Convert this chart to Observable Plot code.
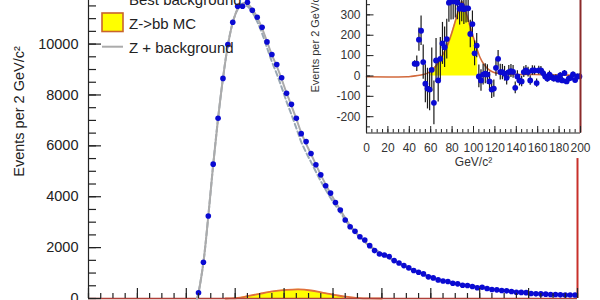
<!DOCTYPE html>
<html>
<head>
<meta charset="utf-8">
<script src="https://cdn.jsdelivr.net/npm/d3@7"></script>
<script src="https://cdn.jsdelivr.net/npm/@observablehq/plot@0.6"></script>
<style>
  html, body { margin: 0; padding: 0; background: #fff; }
  #wrap { position: relative; width: 600px; height: 300px; overflow: hidden; background: #fff; }
  #main, #inset, #legend { position: absolute; }
  #main { left: 0; top: -86px; }
  #inset { left: 314px; top: -20px; }
  #legend { left: 0; top: 0; }
  svg { max-width: none !important; }
</style>
</head>
<body>
<div id="wrap">
  <div id="main"></div>
  <div id="inset"></div>
  <svg id="legend" width="600" height="300"></svg>
</div>
<script>
// ---------- data ----------
// 2 GeV/c^2 bins, centres 45 ... 199
const binCenters = d3.range(45, 200, 2);

// main histogram: events per bin (blue points)
const mainCounts = [224,1423,3242,5280,7083,8651,9984,10858,11486,11486,
  11642,11329,11054,10662,10086,9592,9200,8675,8063,7632,
  7083,6480,6166,5697,5253,4861,4430,4143,3776,3477,
  3085,2822,2640,2430,2300,2078,1882,1751,1712,1646,
  1490,1398,1294,1202,1098,1032,967,850,810,732,
  690,666,601,575,523,510,470,420,444,392,
  353,340,314,300,274,248,240,230,196,183,
  180,170,157,155,144,140,140,135];

// fitted curves in the main panel
const fitMass = [44.4,45,47,49,51,53,55,57,59,61,63,65,67,69,71,73,75,77,79,81,83,85,87,89,91,95,99,103,107,111,115,120,125,130,140,150,160,170,180,190,200];
const fitTotal = [0,230,1420,3240,5260,7080,8650,9950,10850,11380,11600,11580,11380,11050,10620,10100,9580,9130,8620,8080,7580,7060,6520,6080,5680,4860,4130,3480,2880,2420,2060,1760,1480,1250,840,600,440,310,215,160,135];
const fitBackground = [0,230,1420,3240,5260,7080,8650,9950,10845,11360,11550,11490,11255,10885,10420,9860,9310,8830,8300,7740,7230,6700,6160,5740,5366,4615,3955,3380,2829,2408,2060,1760,1480,1250,840,600,440,310,215,160,135];

// Z->bb MC in the main panel
const zMass = [56,58,61,65,70,76,81,86,91,96,102,107,111,115,120];
const zEvents = [0,2,20,90,184,287,340,360,314,224,118,51,12,2,0];
const zFillMass = [60,61,65,70,76,81,86,91,96,102,104.5];
const zFillEvents = [15,20,90,184,287,340,360,314,224,118,80];

// red edge line at the right end of the main panel
const edgeMass = [200];
const edgeTop = [5500];

// inset: background-subtracted events and errors
const insetEvents = [60,60,178,222,68,-38,-62,-67,30,-132,
  76,-22,84,160,141,181,360,368,366,372,
  360,330,345,328,332,332,206,255,111,149,
  -2,-22,7,11,7,-27,-67,-62,40,84,
  19,19,11,-9,19,24,20,-58,-2,-22,
  -27,19,27,19,-22,27,27,-35,27,27,
  14,-2,-13,7,-6,-13,-9,-18,3,-22,
  14,-27,-13,-9,8,-20,-2,-2];
const insetErrors = [15,38,57,73,84,93,100,104,107,107,
  108,106,105,103,100,98,96,93,90,87,
  84,80,79,75,72,70,67,64,61,59,
  56,53,51,49,48,46,43,42,41,41,
  39,37,36,35,33,32,31,29,28,27,
  26,26,25,24,23,23,22,20,21,20,
  19,18,18,17,17,16,15,15,14,14,
  13,13,13,12,12,12,12,12];

// inset fit (orange) and Z MC fill (yellow)
const insetFitMass = [0,38,42,48,53,57,61,65,70,75,79,84,87,89,91,93.5,96,99,102,106,110,114,118,124,135,157,180,200];
const insetFitEvents = [-4,-4,-2,2,7,14,28,50,92,142,200,287,340,365,350,303,258,205,155,92,55,32,20,12,8,7,5,3];
const insetFillMass = [60,61,65,70,75,79,84,87,89,91,93.5,96,99,102,104];
const insetFillEvents = [24,28,50,92,142,200,287,340,365,350,303,258,205,155,122];

// ticks
const mainYTicks = [0,2000,4000,6000,8000,10000,12000,14000];
const mainYMinor = d3.range(0, 14701, 500);
const mainXMajor = [0,20,40,60,80,100,120,140,160,180,200];
const mainXMinor = d3.range(0, 201, 5);
const insetXTicks = [0,20,40,60,80,100,120,140,160,180,200];
const insetXMinor = d3.range(0, 201, 5);
const insetYTicks = [-200,-100,0,100,200,300];
const insetYMinor = d3.range(-250, 400, 50);

// legend
const legendLabels = ["Best background", "Z->bb MC", "Z + background"];
const yTitle = "Events per 2 GeV/c\u00B2";
const xTitle = "GeV/c\u00B2";

// ---------- tables ----------
const mainData = binCenters.map((m, i) => ({m, n: mainCounts[i]}));
const totalData = fitMass.map((m, i) => ({m, n: fitTotal[i]}));
const bkgData = fitMass.map((m, i) => ({m, n: fitBackground[i]}));
const zData = zMass.map((m, i) => ({m, n: zEvents[i]}));
const zFill = zFillMass.map((m, i) => ({m, n: zFillEvents[i]}));
const edgeData = edgeMass.map((m, i) => ({m, top: edgeTop[i]}));
const insetData = binCenters.map((m, i) => ({m, n: insetEvents[i], e: insetErrors[i]}));
const insetFit = insetFitMass.map((m, i) => ({m, n: insetFitEvents[i]}));
const insetFill = insetFillMass.map((m, i) => ({m, n: insetFillEvents[i]}));

const FONT = "'Liberation Sans', Arial, Helvetica, sans-serif";
const BLUE = "#0a0ad2";

// ---------- main panel ----------
const mainW = 600, mainH = 400, mL = 88, mR = 23, mT = 10, mB = 16;
const mFW = mainW - mL - mR, mFH = mainH - mT - mB;

const mainPlot = Plot.plot({
  width: mainW, height: mainH,
  marginLeft: mL, marginRight: mR, marginTop: mT, marginBottom: mB,
  style: {fontFamily: FONT, fontSize: "14.5px", color: "#222", background: "transparent", overflow: "visible"},
  x: {domain: [0, 200], axis: null},
  y: {domain: [0, 14700], ticks: mainYTicks, tickSize: 0, tickPadding: 10, tickFormat: d => String(d), label: null},
  marks: [
    Plot.areaY(zFill, {x: "m", y: "n", fill: "#ffff00"}),
    Plot.line(zData, {x: "m", y: "n", stroke: "#e0703c", strokeWidth: 1.8, curve: "catmull-rom"}),
    Plot.ruleY([0], {stroke: "#b0403a", strokeWidth: 1.6}),
    Plot.ruleX(edgeData, {x: "m", y1: 0, y2: "top", stroke: "#c8302a", strokeWidth: 2}),
    Plot.line(bkgData, {x: "m", y: "n", stroke: "#9aa8b4", strokeWidth: 2, strokeDasharray: "5,3", curve: "catmull-rom"}),
    Plot.line(totalData, {x: "m", y: "n", stroke: "#ababab", strokeWidth: 2, curve: "catmull-rom"}),
    Plot.dot(mainData, {x: "m", y: "n", r: 2.8, fill: BLUE}),
    Plot.ruleX([0], {stroke: "#222", strokeWidth: 1.2}),
    Plot.tickY(mainYMinor, {y: d => d, stroke: "#222", strokeWidth: 1.2, insetRight: mFW - 8}),
    Plot.tickY(mainYTicks, {y: d => d, stroke: "#222", strokeWidth: 1.2, insetRight: mFW - 13}),
    Plot.tickX(mainXMinor, {x: d => d, stroke: "#222", strokeWidth: 1.2, insetTop: mFH - 5}),
    Plot.tickX(mainXMajor, {x: d => d, stroke: "#222", strokeWidth: 1.2, insetTop: mFH - 10}),
    Plot.text([yTitle], {text: d => d, frameAnchor: "left", textAnchor: "middle", rotate: -90, dx: -69, fontSize: 14.5, fill: "#222"})
  ]
});
document.getElementById("main").appendChild(mainPlot);

// ---------- inset panel ----------
const inW = 276, inH = 200, iL = 52, iR = 10, iT = 14, iB = 47.5;
const iFW = inW - iL - iR, iFH = inH - iT - iB;

const insetPlot = Plot.plot({
  width: inW, height: inH,
  marginLeft: iL, marginRight: iR, marginTop: iT, marginBottom: iB,
  style: {fontFamily: FONT, fontSize: "12px", color: "#333", background: "transparent", overflow: "visible"},
  x: {domain: [0, 200], ticks: insetXTicks, tickSize: 0, tickPadding: 10, tickFormat: d => String(d), label: null},
  y: {domain: [-280, 400], ticks: insetYTicks, tickSize: 0, tickPadding: 6, tickFormat: d => String(d), label: null},
  marks: [
    Plot.areaY(insetFill, {x: "m", y: "n", fill: "#ffff00"}),
    Plot.line(insetFit, {x: "m", y: "n", stroke: "#d2693c", strokeWidth: 1.6, curve: "catmull-rom"}),
    Plot.ruleX(insetData, {x: "m", y1: d => d.n - d.e, y2: d => d.n + d.e, stroke: "#1a1a1a", strokeWidth: 1.2}),
    Plot.dot(insetData, {x: "m", y: "n", r: 2.9, fill: BLUE}),
    Plot.ruleX([0], {stroke: "#222", strokeWidth: 1.2}),
    Plot.ruleY([-280], {stroke: "#222", strokeWidth: 1.2}),
    Plot.ruleX([200], {stroke: "#8b2a2a", strokeWidth: 2}),
    Plot.tickY(insetYMinor, {y: d => d, stroke: "#222", insetRight: iFW - 4}),
    Plot.tickY(insetYTicks, {y: d => d, stroke: "#222", insetRight: iFW - 7.5}),
    Plot.tickX(insetXMinor, {x: d => d, stroke: "#222", insetTop: iFH - 3.5}),
    Plot.tickX(insetXTicks, {x: d => d, stroke: "#222", insetTop: iFH - 6.5}),
    Plot.text([xTitle], {text: d => d, frameAnchor: "bottom", textAnchor: "middle", dy: 32.5, fontSize: 12, fill: "#333"}),
    Plot.text([yTitle], {text: d => d, frameAnchor: "bottom-left", rotate: -90, textAnchor: "start", dx: -48, dy: -40.5, fontSize: 11, fill: "#333"})
  ]
});
document.getElementById("inset").appendChild(insetPlot);

// ---------- legend ----------
const lg = d3.select("#legend").style("font-family", FONT);
lg.append("line").attr("x1", 102).attr("x2", 123).attr("y1", -1).attr("y2", -1)
  .attr("stroke", "#9aa8b4").attr("stroke-width", 2).attr("stroke-dasharray", "5,3");
lg.append("rect").attr("x", 102).attr("y", 13).attr("width", 21).attr("height", 18.5)
  .attr("fill", "#ffff00").attr("stroke", "#c8642d").attr("stroke-width", 1.6);
lg.append("line").attr("x1", 102).attr("x2", 123).attr("y1", 46.7).attr("y2", 46.7)
  .attr("stroke", "#ababab").attr("stroke-width", 2);
const baselines = [4.5, 28.5, 52.5];
legendLabels.forEach((t, i) => {
  lg.append("text").attr("x", 129).attr("y", baselines[i]).attr("font-size", 15)
    .attr("fill", "#222").text(t);
});
</script>
</body>
</html>
